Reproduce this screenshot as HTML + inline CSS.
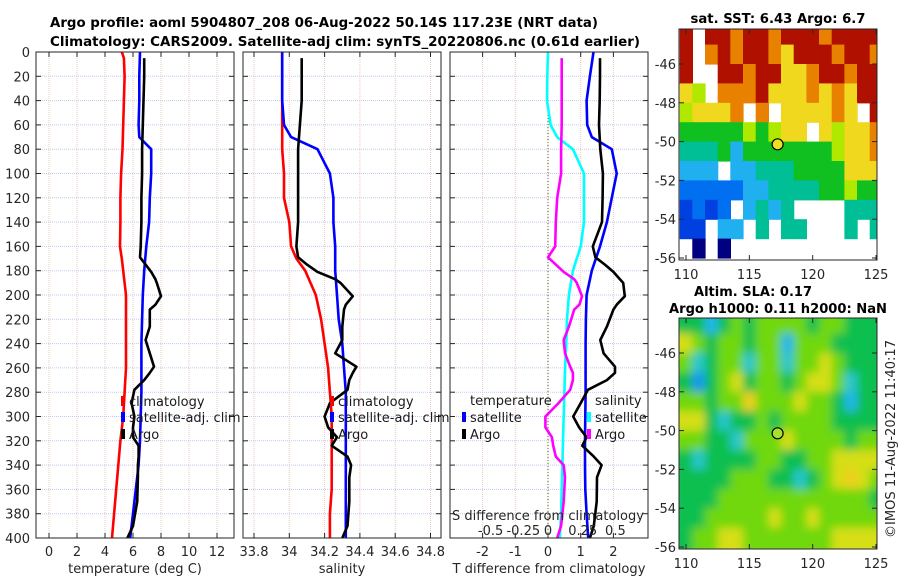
<!DOCTYPE html>
<html><head><meta charset="utf-8"><style>
html,body{margin:0;padding:0;background:#fff;}
svg{display:block;font-family:"DejaVu Sans","Liberation Sans",sans-serif;}
</style></head><body>
<svg id="fig" width="900" height="580" viewBox="0 0 900 580" xmlns="http://www.w3.org/2000/svg">
<defs>
<clipPath id="cm1"><rect x="679" y="29" width="198" height="231"/></clipPath>
<clipPath id="cm2"><rect x="679" y="318" width="198" height="231"/></clipPath>
<filter id="blur" x="-10%" y="-10%" width="120%" height="120%"><feGaussianBlur stdDeviation="4.5"/></filter>
</defs>
<rect width="900" height="580" fill="#fff"/>
<text x="50" y="27" font-size="13" font-weight="bold" textLength="548" lengthAdjust="spacingAndGlyphs">Argo profile: aoml 5904807_208 06-Aug-2022 50.14S 117.23E (NRT data)</text>
<text x="50" y="46" font-size="13" font-weight="bold" textLength="590" lengthAdjust="spacingAndGlyphs">Climatology: CARS2009. Satellite-adj clim: synTS_20220806.nc (0.61d earlier)</text>
<g id="plots"></g>
</svg>
<script>
// ---------- data ----------
const depthTicks = [0,20,40,60,80,100,120,140,160,180,200,220,240,260,280,300,320,340,360,380,400];
const tTicks = [0,2,4,6,8,10,12];
const sTicks = [33.8,34,34.2,34.4,34.6,34.8];
const sTickLabels = ["33.8","34","34.2","34.4","34.6","34.8"];
const dTTicks = [-2,-1,0,1,2];
const dSTicks = [-0.5,-0.25,0,0.25,0.5];
const dSTickLabels = ["-0.5","-0.25","0","0.25","0.5"];

const climDepth = [0,5,20,40,60,80,100,120,140,160,170,180,200,220,240,260,280,300,320,340,360,380,400];
const climTemp  = [5.2,5.35,5.4,5.35,5.3,5.25,5.15,5.1,5.1,5.07,5.2,5.3,5.5,5.5,5.5,5.5,5.4,5.3,5.1,4.95,4.8,4.65,4.5];
const climSal   = [33.96,33.96,33.96,33.96,33.96,33.96,33.97,33.97,34.0,34.01,34.04,34.09,34.15,34.18,34.2,34.22,34.23,34.24,34.24,34.24,34.24,34.23,34.23];

const satDepth = [0,20,40,60,70,80,100,120,140,160,180,200,220,240,260,280,300,320,340,360,380,400];
const satTemp  = [6.5,6.45,6.45,6.4,6.45,7.3,7.3,7.2,7.15,6.95,6.8,6.7,6.65,6.6,6.6,6.6,6.55,6.5,6.4,6.2,6.0,5.8];
const satSal   = [33.96,33.96,33.96,33.97,34.01,34.16,34.23,34.25,34.25,34.26,34.26,34.27,34.28,34.3,34.31,34.32,34.32,34.32,34.32,34.32,34.32,34.32];

const argoDepth = [5,20,40,60,80,100,120,140,160,169,175,181,187,190,201,208,212,226,237,248,259,264,270,278,289,300,309,317,324,333,340,350,370,390,400];
const argoTemp  = [6.8,6.8,6.75,6.7,6.65,6.65,6.6,6.6,6.55,6.5,6.9,7.3,7.6,7.7,8.0,7.6,7.2,7.2,6.9,7.2,7.5,7.2,6.8,6.1,5.9,6.1,6.0,6.0,6.4,6.4,6.35,6.35,6.3,6.0,5.6];
const argoSal   = [34.07,34.07,34.07,34.06,34.05,34.05,34.05,34.05,34.04,34.05,34.1,34.16,34.26,34.29,34.36,34.32,34.31,34.3,34.3,34.26,34.38,34.36,34.34,34.33,34.23,34.2,34.22,34.27,34.24,34.33,34.35,34.34,34.34,34.33,34.3];

const dSatSal  = [0,-0.005,-0.008,0.02,0.07,0.19,0.275,0.275,0.275,0.25,0.19,0.16,0.145,0.14,0.13,0.125,0.12,0.115,0.11,0.105,0.1,0.09];
const dSatTemp = [1.39,1.28,1.18,1.2,1.34,1.95,2.1,1.95,1.8,1.59,1.34,1.18,1.16,1.15,1.15,1.15,1.14,1.13,1.13,1.14,1.18,1.23];
const dArgoSal = [0.105,0.105,0.105,0.105,0.1,0.1,0.07,0.06,0.055,0.0,0.06,0.12,0.2,0.22,0.26,0.24,0.2,0.16,0.12,0.13,0.17,0.19,0.19,0.17,0.08,-0.02,-0.02,0.03,0.04,0.06,0.12,0.13,0.12,0.1,0.07];
const dArgoTemp= [1.59,1.59,1.58,1.56,1.6,1.68,1.67,1.65,1.37,1.45,1.74,2.0,2.2,2.3,2.35,2.1,2.0,1.8,1.6,1.7,2.05,2.05,1.8,1.22,1.0,0.77,0.95,1.18,1.05,1.4,1.64,1.5,1.49,1.4,1.28];

// SST map classes (0..9), -1 = no data; rows lat -44..-56, cols lon 109.5..125.5
const sstGrid = [
 [9,-1,9,9,8,9,9,8,9,9,9,8,9,9,9,9],
 [9,-1,8,9,8,9,9,8,7,9,9,9,8,9,9,8],
 [9,-1,-1,9,9,8,9,9,7,7,8,9,9,8,9,9],
 [7,6,-1,8,8,8,9,7,7,7,8,7,8,7,9,9],
 [6,7,7,7,8,-1,8,-1,7,7,7,7,8,7,-1,9],
 [5,5,5,5,5,6,5,6,7,7,-1,7,6,7,7,8],
 [4,4,4,5,3,5,5,5,5,5,5,5,6,7,7,8],
 [3,3,3,-1,3,3,4,4,4,5,5,5,5,7,7,7],
 [2,2,2,2,2,3,3,4,4,4,4,5,5,6,5,5],
 [1,2,1,2,-1,3,4,3,4,-1,-1,-1,-1,4,4,4],
 [1,1,-1,3,3,-1,4,-1,4,4,-1,-1,-1,4,-1,4],
 [-1,0,-1,0,-1,-1,-1,-1,-1,-1,-1,-1,-1,-1,-1,-1]
];
const slaGrid = [
 [5,5,3.5,5,6,5,6,6,6,6,5,6,6,5,5,5],
 [7,6,5,6,6,5,6,6,3.5,6,6,6,5,5,5,5],
 [6,4,5,6,6,4,6,6,4,6,6,7,6,5,5,5],
 [5,3,5,6,7,5,6,6,5,6,7,7,6,4,5,5],
 [6,6,5,6,6,7.5,6,6,6,7,6,6,5,3.5,5,5],
 [7,7,5,4,5,5,6,5,6,6,6,6,5,5,5,5],
 [6,6,5,5,4,6,6,6,7,6,6,6,6,5,6,6],
 [5,4,5,5,5,5,6,6,5,5,6,6,7,7,7,7],
 [5,5,5,5,6,6,6,5,5,4,5,6,7,7.5,7,6],
 [5,5,5,6,6,6,6,6,6,6,6,6,6,6,6,5],
 [5,5,6,6,6,6,6,7,6,6,7,6,6,6,6,6],
 [5,6,6,7,7,6,6,6,6,6,6,6,7,7,7,7]
];
const mapLonTicks = [110,115,120,125];
const mapLatTicks = [-46,-48,-50,-52,-54,-56];
const argoLon = 117.23, argoLat = -50.14;

// ---------- helpers ----------
const NS = "http://www.w3.org/2000/svg";
const root = document.getElementById('plots');
function el(tag, attrs, parent){ const e=document.createElementNS(NS,tag); for(const k in attrs) e.setAttribute(k,attrs[k]); (parent||root).appendChild(e); return e; }
function txt(x,y,s,attrs,parent){ const e=el('text',Object.assign({x:x,y:y,'font-size':13,fill:'#262626'},attrs||{}),parent); e.textContent=s; return e; }

const TOP=52, BOT=538;
const yD = d => TOP + d*(BOT-TOP)/400;
const xT = t => 49 + 14*t;
const xS = s => 254 + (s-33.8)*176.5;
const xDT = t => 548 + 32.7*t;
const xDS = s => 548 + 130.8*s;

function panel(x0,x1,name,xticks,xfun,labels){
  const g = el('g',{});
  
  
  depthTicks.forEach(d=>{ const l=el('line',{x1:x0,x2:x1,y1:yD(d),y2:yD(d),stroke:'#c4c8ee','stroke-width':1,'stroke-dasharray':'1,1'},g);
      });
  xticks.forEach((t,i)=>{ const X=xfun(t); const l=el('line',{x1:X,x2:X,y1:TOP,y2:BOT,stroke:'#e8c8c0','stroke-width':1,'stroke-dasharray':'1,1'},g);
     
    el('line',{x1:X,x2:X,y1:BOT,y2:BOT-5,stroke:'#262626'},g); el('line',{x1:X,x2:X,y1:TOP,y2:TOP+5,stroke:'#262626'},g);
    if(labels){ const tl=txt(X,556,labels[i],{'text-anchor':'middle'},g);   }
  });
  depthTicks.forEach(d=>{ el('line',{x1:x0,x2:x0+5,y1:yD(d),y2:yD(d),stroke:'#262626'},g); el('line',{x1:x1,x2:x1-5,y1:yD(d),y2:yD(d),stroke:'#262626'},g); });
  return g;
}
function line(xs,ds,xfun,color,name,parent,w){
  const p = el('path',{d:xs.map((v,i)=>(i?'L':'M')+xfun(v).toFixed(1)+','+yD(ds[i]).toFixed(1)).join(''),fill:'none',stroke:color,'stroke-width':w||2.6,'stroke-linejoin':'round'},parent);
  
  
  return p;
}
function frame(x0,x1,parent){ el('rect',{x:x0,y:TOP,width:x1-x0,height:BOT-TOP,fill:'none',stroke:'#262626','stroke-width':1},parent); }
function legendItem(bx,tx,y,color,label,parent){
  el('rect',{x:bx,y:y-5,width:4,height:10,fill:color},parent);
  const t=txt(tx,y+5,label,{fill:'#1a1a1a'},parent);
   
}

// ---------- panel 1 ----------
const g1 = panel(36,234,'temperature-panel',tTicks,xT,tTicks.map(String));
line(climTemp,climDepth,xT,'#ff0000','clim-temp-line',g1);
line(satTemp,satDepth,xT,'#0000ff','sat-temp-line',g1);
line(argoTemp,argoDepth,xT,'#000000','argo-temp-line',g1);
frame(36,234,g1);
depthTicks.forEach(d=>{ const t=txt(30,yD(d)+5,String(d),{'text-anchor':'end'},g1);   });
let at=txt(135,573,'temperature (deg C)',{'text-anchor':'middle'},g1);  
legendItem(121,129,401,'#ff0000','climatology',g1);
legendItem(121,129,417,'#0000ff','satellite-adj. clim',g1);
legendItem(121,129,434,'#000000','Argo',g1);

// ---------- panel 2 ----------
const g2 = panel(243,441,'salinity-panel',sTicks,xS,sTickLabels);
line(climSal,climDepth,xS,'#ff0000','clim-sal-line',g2);
line(satSal,satDepth,xS,'#0000ff','sat-sal-line',g2);
line(argoSal,argoDepth,xS,'#000000','argo-sal-line',g2);
frame(243,441,g2);
at=txt(342,573,'salinity',{'text-anchor':'middle'},g2);  
legendItem(330,338,401,'#ff0000','climatology',g2);
legendItem(330,338,417,'#0000ff','satellite-adj. clim',g2);
legendItem(330,338,434,'#000000','Argo',g2);

// ---------- panel 3 ----------
const g3 = panel(450,648,'difference-panel',dTTicks,xDT,dTTicks.map(String));
const zl=el('line',{x1:548,x2:548,y1:TOP,y2:BOT,stroke:'#556b2f','stroke-width':1,'stroke-dasharray':'1,2'},g3);
 
line(dSatSal,satDepth,xDS,'#00ffff','sat-sal-diff-line',g3);
line(dArgoSal,argoDepth,xDS,'#ff00ff','argo-sal-diff-line',g3);
line(dSatTemp,satDepth,xDT,'#0000ff','sat-temp-diff-line',g3);
line(dArgoTemp,argoDepth,xDT,'#000000','argo-temp-diff-line',g3);
frame(450,648,g3);
at=txt(549,573,'T difference from climatology',{'text-anchor':'middle',textLength:193,lengthAdjust:'spacingAndGlyphs'},g3);  
at=txt(548,520,'S difference from climatology',{'text-anchor':'middle',textLength:192,lengthAdjust:'spacingAndGlyphs'},g3);  
dSTicks.forEach((s,i)=>{ const t=txt(xDS(s)+(i<2?8:(i>2?2:0)),535,dSTickLabels[i],{'text-anchor':'middle'},g3);   });
let lt=txt(470,405,'temperature',{fill:'#1a1a1a'},g3);  
legendItem(462,470,417,'#0000ff','satellite',g3);
legendItem(462,470,434,'#000000','Argo',g3);
lt=txt(595,405,'salinity',{fill:'#1a1a1a'},g3);  
legendItem(587,595,417,'#00ffff','satellite',g3);
legendItem(587,595,434,'#ff00ff','Argo',g3);

// ---------- maps ----------
const stops = [[0,[0,0,128]],[1,[0,64,224]],[2,[0,112,240]],[3,[32,176,240]],[3.5,[48,200,220]],[4,[0,190,150]],[5,[16,192,32]],[6,[176,232,0]],[7,[240,216,30]],[8,[232,128,0]],[9,[176,16,0]]];
function cmap(v){ if(v<=0) return 'rgb(0,0,128)'; for(let i=1;i<stops.length;i++){ if(v<=stops[i][0]){ const a=stops[i-1],b=stops[i]; const f=(v-a[0])/(b[0]-a[0]); const c=a[1].map((x,k)=>Math.round(x+(b[1][k]-x)*f)); return 'rgb('+c.join(',')+')'; } } return 'rgb(176,16,0)'; }
const mapX = lon => 686 + (lon-110)*12.67;
function drawMap(top,grid,clip,name,blur,markerFill,shift){
  const latY = lat => top + 35 + (-46-lat)*19.4;
  const g=el('g',{});
  
  
  const cg=el('g',{'clip-path':'url(#'+clip+')'},g);
  const inner = blur ? el('g',{filter:'url(#blur)'},cg) : cg;
  grid.forEach((row,r)=>row.forEach((v,c)=>{
    if(v<0) return;
    const lon0=109.5+c, lat0=-44+(-r);
    const pad = blur?8:0;
    const x0=mapX(lon0), y0=latY(lat0);
    const rc=el('rect',{x:(x0-(c===0?pad:0)).toFixed(1),y:(y0-(r===0?pad:0)).toFixed(1),width:(12.67+(c===0||c===grid[0].length-1?pad:0)+0.6).toFixed(1),height:(19.4+(r===0||r===grid.length-1?pad:0)+0.6).toFixed(1),fill:cmap(v-shift)},inner);
    
    
  }));
  el('rect',{x:679,y:top,width:198,height:231,fill:'none',stroke:'#262626'},g);
  mapLatTicks.forEach(lat=>{ const Y=latY(lat); el('line',{x1:877,x2:872,y1:Y,y2:Y,stroke:'#262626'},g); el('line',{x1:679,x2:684,y1:Y,y2:Y,stroke:'#262626'},g);
    const t=txt(676,Y+5,String(lat),{'text-anchor':'end'},g);   });
  mapLonTicks.forEach(lon=>{ const X=mapX(lon); el('line',{x1:X,x2:X,y1:top+231,y2:top+226,stroke:'#262626'},g); el('line',{x1:X,x2:X,y1:top,y2:top+5,stroke:'#262626'},g);
    const t=txt(X,top+250,String(lon),{'text-anchor':'middle'},g);   });
  const m=el('circle',{cx:mapX(argoLon),cy:latY(argoLat),r:5.5,fill:markerFill,stroke:'#000','stroke-width':1.2},g);
  
  
}
drawMap(29,sstGrid,'cm1','sst-map',false,'#f0e020',0);
drawMap(318,slaGrid,'cm2','sla-map',true,'#a8e030',0.4);
let mt=txt(778,23,'sat. SST: 6.43 Argo: 6.7',{'text-anchor':'middle','font-weight':'bold',fill:'#000',textLength:175,lengthAdjust:'spacingAndGlyphs'});  
mt=txt(753,296,'Altim. SLA: 0.17',{'text-anchor':'middle','font-weight':'bold',fill:'#000',textLength:118,lengthAdjust:'spacingAndGlyphs'});  
mt=txt(778,313,'Argo h1000: 0.11 h2000: NaN',{'text-anchor':'middle','font-weight':'bold',fill:'#000',textLength:218,lengthAdjust:'spacingAndGlyphs'});  
mt=txt(0,0,'©IMOS 11-Aug-2022 11:40:17',{'text-anchor':'middle',transform:'translate(895,439) rotate(-90)',textLength:198,lengthAdjust:'spacingAndGlyphs'});  
</script>
</body></html>
